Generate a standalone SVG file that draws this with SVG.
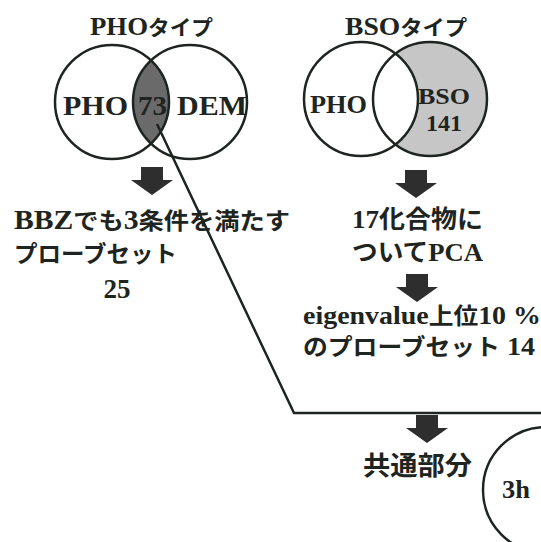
<svg xmlns="http://www.w3.org/2000/svg" width="541" height="542" viewBox="0 0 541 542">
<style>
.t{font-family:"Liberation Serif","Noto Sans CJK JP",serif;font-weight:bold;fill:#1e2420}
.j{font-family:"Noto Sans CJK JP","Liberation Sans",sans-serif;font-weight:bold;fill:#1e2420}
.c{fill:none;stroke:#1e2420;stroke-width:2.5}
.arr{fill:#2e2e2e}
</style>
<defs>
<path id="barrow" d="M-11,0 H11 V13 H21 L0,28 L-21,13 H-11 Z"/>
</defs>
<rect width="541" height="542" fill="#fff"/>
<g id="pho-venn">
<text class="t" x="90" y="35" textLength="123" lengthAdjust="spacingAndGlyphs"><tspan font-size="26">PHO</tspan><tspan class="j" font-size="21">タイプ</tspan></text>
<path d="M151,60.4 A57,57 0 0,1 151,143.6 A57,57 0 0,1 151,60.4 Z" fill="#6a6a6a"/>
<circle class="c" cx="112" cy="102" r="57"/>
<circle class="c" cx="190" cy="102" r="57"/>
<text class="t" x="63" y="115" font-size="27" textLength="65" lengthAdjust="spacingAndGlyphs">PHO</text>
<text class="t" x="138" y="115" font-size="27" textLength="29" lengthAdjust="spacingAndGlyphs">73</text>
<text class="t" x="177" y="115" font-size="27" textLength="70" lengthAdjust="spacingAndGlyphs">DEM</text>
</g>
<g id="bso-venn">
<text class="t" x="345" y="35" textLength="122" lengthAdjust="spacingAndGlyphs"><tspan font-size="26">BSO</tspan><tspan class="j" font-size="21">タイプ</tspan></text>
<path d="M395.5,53.6 A57,57 0 1,1 395.5,144.4 A57,57 0 0,0 395.5,53.6 Z" fill="#c6c6c6"/>
<circle class="c" cx="361" cy="99" r="57"/>
<circle class="c" cx="430" cy="99" r="57"/>
<text class="t" x="310" y="113" font-size="26" textLength="57" lengthAdjust="spacingAndGlyphs">PHO</text>
<text class="t" x="418" y="104" font-size="24" textLength="52" lengthAdjust="spacingAndGlyphs">BSO</text>
<text class="t" x="444" y="131" font-size="24" text-anchor="middle">141</text>
</g>
<g id="bbz">
<text class="t" x="14" y="229" textLength="276" lengthAdjust="spacingAndGlyphs"><tspan font-size="27">BBZ</tspan><tspan class="j" font-size="23">でも</tspan><tspan font-size="27">3</tspan><tspan class="j" font-size="23">条件を満たす</tspan></text>
<text class="j" x="14" y="262" font-size="23" textLength="163" lengthAdjust="spacingAndGlyphs">プローブセット</text>
<text class="t" x="117" y="298" font-size="27" text-anchor="middle">25</text>
</g>
<g id="pca">
<text class="t" x="352" y="228" textLength="131" lengthAdjust="spacingAndGlyphs"><tspan font-size="26">17</tspan><tspan class="j" font-size="25">化合物に</tspan></text>
<text class="t" x="352" y="261" textLength="131" lengthAdjust="spacingAndGlyphs"><tspan class="j" font-size="25">ついて</tspan><tspan font-size="26">PCA</tspan></text>
</g>
<g id="eigen">
<text class="t" x="303" y="324" textLength="238" lengthAdjust="spacingAndGlyphs"><tspan font-size="26">eigenvalue</tspan><tspan class="j" font-size="23">上位</tspan><tspan font-size="26">10 %</tspan></text>
<text class="t" x="303" y="355" textLength="232" lengthAdjust="spacingAndGlyphs"><tspan class="j" font-size="23">のプローブセット</tspan><tspan font-size="26"> 14</tspan></text>
</g>
<g id="common">
<text class="j" x="363" y="475" font-size="26" textLength="109" lengthAdjust="spacingAndGlyphs">共通部分</text>
</g>
<g id="h3">
<circle class="c" cx="546" cy="490" r="63"/>
<text class="t" x="502" y="498" font-size="25" textLength="28" lengthAdjust="spacingAndGlyphs">3h</text>
</g>
<g id="connectors">
<use href="#barrow" class="arr" x="152" y="167"/>
<use href="#barrow" class="arr" x="416" y="170"/>
<use href="#barrow" class="arr" x="417" y="274"/>
<use href="#barrow" class="arr" x="427" y="415"/>
<polyline points="157,124 294,413 541,413" fill="none" stroke="#1e2420" stroke-width="2.5"/>
</g>
</svg>
